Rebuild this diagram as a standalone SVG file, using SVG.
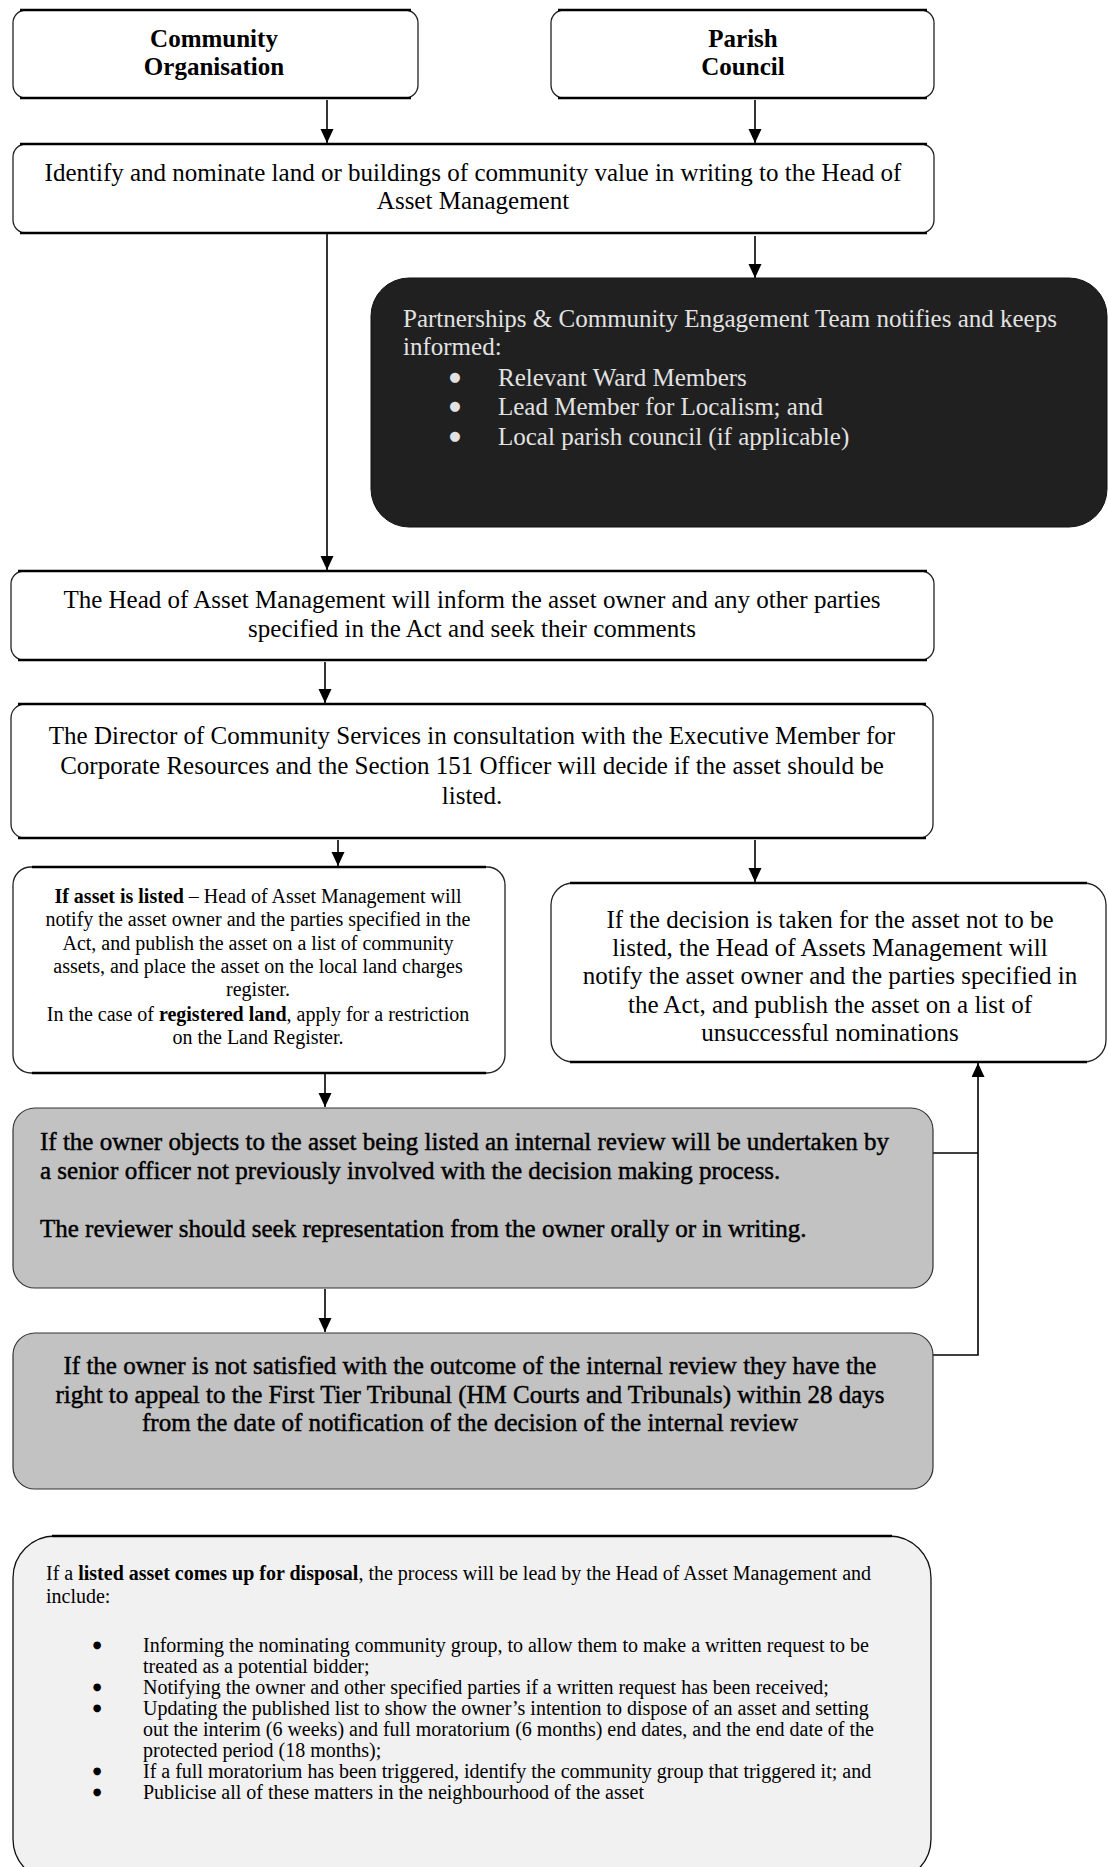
<svg xmlns="http://www.w3.org/2000/svg" width="1108" height="1867" viewBox="0 0 1108 1867">
<defs>
<style>
.t{font-family:"Liberation Serif","Times New Roman",serif;font-size:25px;fill:#000}
.s{font-family:"Liberation Serif","Times New Roman",serif;font-size:20px;fill:#000}
.bl{font-family:"DejaVu Sans",sans-serif;font-size:13px;text-anchor:middle}
.bs{font-family:"DejaVu Sans",sans-serif;font-size:10px;text-anchor:middle;fill:#000}
.b{font-weight:bold}
.c{text-anchor:middle}
.w{fill:#e2e2e2}
.h{stroke:#000;stroke-width:0.45}
.box{fill:#fff;stroke:#222;stroke-width:1.3}
.edge{stroke:#000;stroke-width:2.6;fill:none}
.gray{fill:#c2c2c2;stroke:#333;stroke-width:1.2}
.dark{fill:#202020;stroke:#111;stroke-width:1}
.light{fill:#f1f1f1;stroke:#111;stroke-width:1.3}
.con{stroke:#000;stroke-width:1.6;fill:none}
</style>
<marker id="arr" markerUnits="userSpaceOnUse" markerWidth="14" markerHeight="14" refX="14" refY="6.5" orient="auto">
<path d="M0,0 L14,6.5 L0,13 z" fill="#000"/>
</marker>
</defs>
<rect width="1108" height="1867" fill="#fff"/>

<g id="connectors">
<path class="con" d="M327,100 V143" marker-end="url(#arr)"/>
<path class="con" d="M755,100 V143" marker-end="url(#arr)"/>
<path class="con" d="M327,234 V570" marker-end="url(#arr)"/>
<path class="con" d="M755,236 V278" marker-end="url(#arr)"/>
<path class="con" d="M325,662 V703" marker-end="url(#arr)"/>
<path class="con" d="M338,840 V866" marker-end="url(#arr)"/>
<path class="con" d="M755,840 V882" marker-end="url(#arr)"/>
<path class="con" d="M325,1073 V1107" marker-end="url(#arr)"/>
<path class="con" d="M325,1289 V1332" marker-end="url(#arr)"/>
<path class="con" d="M933,1153 H978"/>
<path class="con" d="M933,1355 H978 V1063" marker-end="url(#arr)"/>
</g>

<g id="community">
<rect class="box" x="13" y="10" width="405" height="88" rx="13"/>
<path class="edge" d="M20,10 H411 M20,98 H411"/>
<text class="t b c" x="214" y="47">Community</text>
<text class="t b c" x="214" y="75">Organisation</text>
</g>

<g id="parish">
<rect class="box" x="551" y="10" width="383" height="88" rx="13"/>
<path class="edge" d="M558,10 H927 M558,98 H927"/>
<text class="t b c" x="743" y="47">Parish</text>
<text class="t b c" x="743" y="75">Council</text>
</g>

<g id="identify">
<rect class="box" x="13" y="144" width="921" height="89" rx="13"/>
<path class="edge" d="M20,144 H927 M20,233 H927"/>
<text class="t c" x="473" y="181">Identify and nominate land or buildings of community  value in writing to the Head of</text>
<text class="t c" x="473" y="209">Asset Management</text>
</g>

<g id="partnerships">
<rect class="dark" x="371" y="278" width="736" height="249" rx="38"/>
<text class="t w" x="403" y="327">Partnerships &amp; Community Engagement Team notifies and keeps</text>
<text class="t w" x="403" y="355">informed:</text>
<text class="bl w" x="455" y="381">●</text>
<text class="t w" x="498" y="386">Relevant Ward Members</text>
<text class="bl w" x="455" y="410">●</text>
<text class="t w" x="498" y="415">Lead Member for Localism; and</text>
<text class="bl w" x="455" y="440">●</text>
<text class="t w" x="498" y="445">Local parish council (if applicable)</text>
</g>

<g id="inform-owner">
<rect class="box" x="11" y="571" width="923" height="89" rx="13"/>
<path class="edge" d="M18,571 H927 M18,660 H927"/>
<text class="t c" x="472" y="608">The Head of Asset Management will inform the asset owner and any other parties</text>
<text class="t c" x="472" y="637">specified in the Act and seek their comments</text>
</g>

<g id="director">
<rect class="box" x="11" y="704" width="922" height="134" rx="14"/>
<path class="edge" d="M18,704 H926 M18,838 H926"/>
<text class="t c" x="472" y="744">The Director of Community Services in consultation with the Executive Member for</text>
<text class="t c" x="472" y="774">Corporate Resources and the Section 151 Officer will decide if the asset should be</text>
<text class="t c" x="472" y="804">listed.</text>
</g>

<g id="listed">
<rect class="box" x="13" y="867" width="492" height="206" rx="18"/>
<path class="edge" d="M32,867 H486 M32,1073 H486"/>
<text class="s c" x="258" y="903"><tspan class="b">If asset is listed</tspan> – Head of Asset Management will</text>
<text class="s c" x="258" y="926">notify the asset owner and the parties specified in the</text>
<text class="s c" x="258" y="950">Act, and publish the asset on a list of community</text>
<text class="s c" x="258" y="973">assets, and place the asset on the local land charges</text>
<text class="s c" x="258" y="996">register.</text>
<text class="s c" x="258" y="1021">In the case of <tspan class="b">registered land</tspan>, apply for a restriction</text>
<text class="s c" x="258" y="1044">on the Land Register.</text>
</g>

<g id="not-listed">
<rect class="box" x="551" y="883" width="555" height="179" rx="22"/>
<path class="edge" d="M570,883 H1087 M570,1062 H1087"/>
<text class="t c" x="830" y="928">If the decision is taken for the asset not to be</text>
<text class="t c" x="830" y="956">listed, the Head of Assets Management will</text>
<text class="t c" x="830" y="984">notify the asset owner and the parties specified in</text>
<text class="t c" x="830" y="1013">the Act, and publish the asset on a list of</text>
<text class="t c" x="830" y="1041">unsuccessful nominations</text>
</g>

<g id="internal-review">
<rect class="gray" x="13" y="1108" width="920" height="180" rx="22"/>
<text class="t h" x="40" y="1150">If the owner objects to the asset being listed an internal review will be undertaken by</text>
<text class="t h" x="40" y="1179">a senior officer not previously involved with the decision making  process.</text>
<text class="t h" x="40" y="1237">The reviewer should seek representation from the owner orally or in writing.</text>
</g>

<g id="appeal">
<rect class="gray" x="13" y="1333" width="920" height="156" rx="22"/>
<text class="t h c" x="470" y="1374">If the owner is not satisfied with the outcome of the internal review they have the</text>
<text class="t h c" x="470" y="1403">right to appeal to the First Tier Tribunal (HM Courts and Tribunals) within 28 days</text>
<text class="t h c" x="470" y="1431">from the date of notification of the decision of the internal review</text>
</g>

<g id="disposal">
<rect class="light" x="13" y="1536" width="918" height="345" rx="42"/>
<path class="edge" d="M52,1536 H892"/>
<text class="s" x="46" y="1580">If a <tspan class="b">listed asset comes up for disposal</tspan>, the process will be lead by the Head of Asset Management and</text>
<text class="s" x="46" y="1603">include:</text>
<text class="bs" x="97" y="1648">●</text>
<text class="s" x="143" y="1652">Informing the nominating community group, to allow them to make a written request to be</text>
<text class="s" x="143" y="1673">treated as a potential bidder;</text>
<text class="bs" x="97" y="1690">●</text>
<text class="s" x="143" y="1694">Notifying the owner and other specified parties if a written request has been received;</text>
<text class="bs" x="97" y="1711">●</text>
<text class="s" x="143" y="1715">Updating the published list to show the owner’s intention to dispose of an asset and setting</text>
<text class="s" x="143" y="1736">out the interim (6 weeks) and full moratorium (6 months) end dates, and the end date of the</text>
<text class="s" x="143" y="1757">protected period (18 months);</text>
<text class="bs" x="97" y="1774">●</text>
<text class="s" x="143" y="1778">If a full moratorium has been triggered, identify the community group that triggered it; and</text>
<text class="bs" x="97" y="1795">●</text>
<text class="s" x="143" y="1799">Publicise all of these matters in the neighbourhood of the asset</text>
</g>
</svg>
